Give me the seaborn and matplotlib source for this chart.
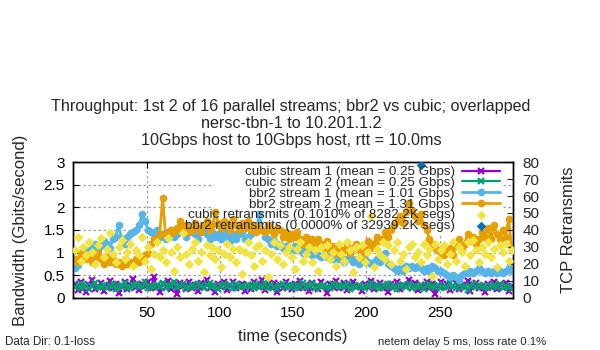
import numpy as np
import pandas as pd
import matplotlib
matplotlib.use("Agg")
import matplotlib.pyplot as plt
import seaborn as sns
from matplotlib.ticker import FuncFormatter
from matplotlib.patches import Rectangle

# ---------------- data (one sample every 2 s) ----------------
seconds = np.arange(1, 300, 2)

cubic_stream1 = [0.30,0.18,0.35,0.22,0.12,0.28,0.40,0.20,0.25,0.33, 0.15,0.27,0.38,0.22,0.30,0.10,0.26,0.34,0.19,0.29,
                 0.42,0.24,0.17,0.31,0.27,0.36,0.21,0.45,0.25,0.14, 0.30,0.23,0.37,0.19,0.28,0.08,0.33,0.26,0.20,0.35,
                 0.22,0.29,0.16,0.32,0.25,0.39,0.21,0.27,0.12,0.30, 0.24,0.34,0.18,0.28,0.36,0.22,0.26,0.31,0.15,0.29,
                 0.20,0.35,0.27,0.23,0.40,0.18,0.30,0.25,0.33,0.14, 0.28,0.22,0.36,0.26,0.19,0.31,0.24,0.38,0.21,0.29,
                 0.16,0.33,0.25,0.20,0.35,0.28,0.11,0.30,0.24,0.37, 0.22,0.27,0.32,0.18,0.29,0.34,0.23,0.26,0.15,0.31,
                 0.25,0.38,0.20,0.28,0.33,0.22,0.27,0.13,0.30,0.24, 0.35,0.19,0.29,0.26,0.40,0.21,0.32,0.17,0.28,0.25,
                 0.34,0.22,0.30,0.09,0.27,0.36,0.23,0.31,0.18,0.26, 0.33,0.20,0.29,0.24,0.37,0.15,0.28,0.32,0.21,0.27,
                 0.12,0.30,0.25,0.35,0.19,0.28,0.23,0.33,0.16,0.26]

cubic_stream2 = [0.24,0.28,0.21,0.30,0.26,0.19,0.27,0.32,0.23,0.25, 0.29,0.22,0.26,0.31,0.20,0.27,0.24,0.33,0.25,0.22,
                 0.28,0.30,0.23,0.26,0.34,0.21,0.27,0.25,0.29,0.24, 0.32,0.22,0.28,0.26,0.35,0.23,0.27,0.30,0.21,0.25,
                 0.29,0.24,0.31,0.26,0.22,0.28,0.33,0.25,0.27,0.20, 0.26,0.30,0.24,0.28,0.22,0.31,0.25,0.27,0.23,0.29,
                 0.26,0.21,0.30,0.24,0.27,0.33,0.22,0.28,0.25,0.19, 0.27,0.31,0.24,0.26,0.29,0.22,0.28,0.25,0.32,0.23,
                 0.26,0.30,0.21,0.27,0.24,0.29,0.25,0.22,0.31,0.26, 0.28,0.23,0.27,0.30,0.20,0.26,0.24,0.29,0.25,0.22,
                 0.27,0.32,0.24,0.26,0.21,0.28,0.25,0.30,0.23,0.27, 0.19,0.26,0.29,0.24,0.31,0.22,0.27,0.25,0.28,0.20,
                 0.26,0.30,0.23,0.25,0.28,0.21,0.27,0.24,0.32,0.26, 0.22,0.29,0.25,0.27,0.18,0.26,0.30,0.23,0.28,0.24,
                 0.27,0.21,0.26,0.29,0.24,0.31,0.22,0.27,0.25,0.20]

bbr2_stream1 = [0.65,0.72,0.85,0.95,1.05, 1.00,1.10,1.20,1.05,1.15, 1.25,1.20,1.10,1.30,1.35, 1.60,1.30,1.20,1.35,1.40,
                1.45,1.50,1.60,1.85,1.70, 1.50,1.45,1.40,1.50,1.35, 1.40,1.30,1.45,1.50,1.35, 1.40,1.55,1.45,1.35,1.50,
                1.45,1.40,1.30,1.45,1.55, 1.40,1.30,1.45,1.35,1.40, 1.30,1.45,1.35,1.25,1.40, 1.30,1.40,1.45,1.30,1.35,
                1.40,1.50,1.55,1.85,1.50, 1.35,1.30,1.20,1.25,1.15, 1.20,1.10,1.15,1.05,1.10, 1.15,1.05,1.10,1.00,1.05,
                1.00,0.95,1.05,0.95,0.90, 0.95,0.90,1.00,0.85,0.90, 0.85,0.90,0.80,0.85,0.90, 0.80,0.85,0.75,0.80,0.85,
                0.80,0.75,0.80,0.85,0.80, 0.85,1.00,0.75,0.70,0.65, 0.60,0.65,0.60,0.70,0.65, 0.70,0.65,0.70,0.65,0.60,
                0.65,0.60,0.70,0.65,0.60, 0.60,0.55,0.50,0.45,0.50, 0.45,0.40,0.50,0.55,0.55, 0.60,0.55,0.60,0.65,0.60,
                0.55,0.60,0.55,0.60,0.55, 0.60,0.55,0.60,0.65,0.60]

bbr2_stream2 = [0.85,0.80,1.00,0.90,0.85, 0.95,0.80,0.90,1.00,0.85, 0.75,0.90,0.80,0.85,0.75, 0.80,0.70,0.85,0.75,0.80,
                0.75,0.85,0.80,0.90,0.95, 1.00,1.20,1.30,1.25,1.40, 2.20,1.40,1.35,1.50,1.45, 1.55,1.70,1.50,1.60,1.45,
                1.50,1.65,1.55,1.45,1.60, 1.70,1.50,1.60,1.90,1.65, 1.55,1.70,1.60,1.50,1.75, 1.60,1.50,1.65,1.55,1.70,
                1.50,1.60,1.45,1.55,1.50, 1.45,1.60,1.50,1.40,1.55, 1.50,1.35,1.45,1.30,1.40, 1.35,1.45,1.30,1.20,1.35,
                1.25,1.30,1.15,1.30,1.20, 1.10,1.25,1.05,1.15,1.00, 1.10,0.95,1.05,1.15,1.00, 1.10,1.20,1.05,0.90,1.15,
                1.25,1.10,1.20,1.35,1.25, 1.30,1.45,1.35,1.50,1.60, 1.70,1.80,1.65,1.90,2.10, 1.95,1.80,1.70,1.85,1.60,
                1.50,1.30,1.20,1.10,1.05, 1.00,0.95,1.05,1.10,0.95, 1.15,1.30,1.10,1.20,1.40, 1.25,1.35,1.20,1.30,1.45,
                1.35,1.55,1.30,1.60,1.40, 1.30,1.50,1.35,1.75,1.10]

cubic_retrans = [28,36,22,30,25,33,27,20,31,35, 24,29,38,26,21,30,34,23,27,32, 19,28,25,36,22,30,17,26,33,24,
                 28,21,35,27,16,30,24,38,26,20, 29,33,22,27,15,31,25,30,23,28, 18,26,32,24,29,21,29,14,27,33,
                 25,19,30,31,22,28,12,26,33,23, 31,20,27,30,24,17,29,33,22,26, 30,21,28,16,30,25,31,23,27,19,
                 32,26,22,33,28,15,30,24,31,21, 27,48,18,29,25,33,23,31,20,28, 33,22,26,17,30,32,24,27,21,32,
                 25,29,13,32,23,28,31,20,26,33, 22,30,27,19,33,25,34,28,21,30, 26,33,24,29,18,31,27,32,22,28]

bbr2_retrans = [0]*118 + [78] + [0]*31

labels = ["cubic stream 1 (mean = 0.25 Gbps)",
          "cubic stream 2 (mean = 0.25 Gbps)",
          "bbr2 stream 1 (mean = 1.01 Gbps)",
          "bbr2 stream 2 (mean = 1.31 Gbps)",
          "cubic retransmits (0.1010% of 8282.2K segs)",
          "bbr2 retransmits (0.0000% of 32939.2K segs)"]

x_ticks = [50, 100, 150, 200, 250]
y_ticks = [0, 0.5, 1, 1.5, 2, 2.5, 3]
y2_ticks = [0, 10, 20, 30, 40, 50, 60, 70, 80]

# ---------------- style ----------------
sns.set_style("white")
plt.rcParams["font.family"] = ["Liberation Sans", "DejaVu Sans"]

C_PURPLE = "#9400d3"
C_GREEN = "#009e73"
C_LBLUE = "#56b4e9"
C_ORANGE = "#e69f00"
C_YELLOW = "#f0e442"
C_BLUE = "#0072b2"

fig = plt.figure(figsize=(6, 3.5), dpi=100)
ax = fig.add_axes([0.122, 0.149, 0.733, 0.388])
ax2 = ax.twinx()

df = pd.DataFrame({"t": seconds, "c1": cubic_stream1, "c2": cubic_stream2,
                   "b1": bbr2_stream1, "b2": bbr2_stream2,
                   "cr": cubic_retrans, "br": bbr2_retrans})
df_br = df[df["br"] > 0]   # zero-retransmit samples are not drawn

sns.lineplot(data=df, x="t", y="c1", ax=ax, color=C_PURPLE, lw=1.6, marker="x",
             markersize=4.5, markeredgewidth=1.6, markeredgecolor=C_PURPLE, label=labels[0], zorder=3)
sns.lineplot(data=df, x="t", y="c2", ax=ax, color=C_GREEN, lw=1.6, marker="x",
             markersize=4.5, markeredgewidth=1.6, markeredgecolor=C_GREEN, label=labels[1], zorder=3)
sns.lineplot(data=df, x="t", y="b1", ax=ax, color=C_LBLUE, lw=2.0, marker="o",
             markersize=5.5, markeredgewidth=0, label=labels[2], zorder=3)
sns.lineplot(data=df, x="t", y="b2", ax=ax, color=C_ORANGE, lw=2.0, marker="o",
             markersize=5.5, markeredgewidth=0, label=labels[3], zorder=3)

sns.scatterplot(data=df, x="t", y="cr", ax=ax2, color=C_YELLOW, marker="D", s=24,
                linewidth=0, label=labels[4], zorder=3)
sns.scatterplot(data=df_br, x="t", y="br", ax=ax2, color=C_BLUE, marker="D", s=24,
                linewidth=0, label=labels[5], zorder=3)

# axes limits & ticks
ax.set_xlim(0, 300)
ax.set_ylim(0, 3)
ax2.set_ylim(0, 80)
ax.set_xticks(x_ticks)
ax.set_yticks(y_ticks)
ax2.set_yticks(y2_ticks)
ax.yaxis.set_major_formatter(FuncFormatter(lambda v, p: f"{v:g}"))

for a in (ax, ax2):
    for s in a.spines.values():
        s.set_color("black")
        s.set_linewidth(1.0)
ax.tick_params(axis="both", which="major", direction="in", length=4, width=0.8,
               labelsize=11, top=True, colors="black")
ax.tick_params(axis="x", pad=6)
ax.tick_params(axis="y", right=False, pad=6)
ax2.tick_params(axis="y", direction="in", length=4, width=0.8, labelsize=11, pad=7)

ax.set_axisbelow(True)
ax.grid(True, color="#a0a0a0", linestyle=(0, (2, 2)), linewidth=0.9)

ax.set_xlabel("time (seconds)", fontsize=12, labelpad=6)
ax.set_ylabel("Bandwidth (Gbits/second)", fontsize=12, labelpad=11)
ax2.set_ylabel("TCP Retransmits", fontsize=12, labelpad=15)

# legend (gnuplot style: right aligned text, sample on the right), text above the data
h1, l1 = ax.get_legend_handles_labels()
h2, l2 = ax2.get_legend_handles_labels()
if ax.get_legend() is not None:
    ax.get_legend().remove()
if ax2.get_legend() is not None:
    ax2.get_legend().remove()
leg = ax2.legend(h1 + h2, l1 + l2, loc="upper right", bbox_to_anchor=(0.98, 1.0),
                 markerfirst=False, fontsize=9.6, frameon=False,
                 handlelength=2.9, handletextpad=0.5, labelspacing=-0.12,
                 borderpad=0.15, borderaxespad=0.15)
leg.set_zorder(10)

# white key box hiding only the grid (data is drawn above it)
fig.canvas.draw()
bb = leg.get_window_extent().transformed(ax.transAxes.inverted())
box_x0 = bb.x0 + 0.07
ax.add_patch(Rectangle((box_x0, bb.y0), bb.x1 - box_x0, 1.0 - bb.y0, transform=ax.transAxes,
                       facecolor="white", edgecolor="none", zorder=1))

# titles and footers
fig.text(0.485, 0.695, "Throughput: 1st 2 of 16 parallel streams; bbr2 vs cubic; overlapped",
         ha="center", va="center", fontsize=11.6)
fig.text(0.485, 0.648, "nersc-tbn-1 to 10.201.1.2", ha="center", va="center", fontsize=11.6)
fig.text(0.485, 0.600, "10Gbps host to 10Gbps host, rtt = 10.0ms", ha="center", va="center", fontsize=11.6)
fig.text(0.008, 0.022, "Data Dir: 0.1-loss", ha="left", va="center", fontsize=8.4)
fig.text(0.63, 0.022, "netem delay 5 ms, loss rate 0.1%", ha="left", va="center", fontsize=8.2)

fig.savefig("out.png", dpi=100, facecolor="white")
